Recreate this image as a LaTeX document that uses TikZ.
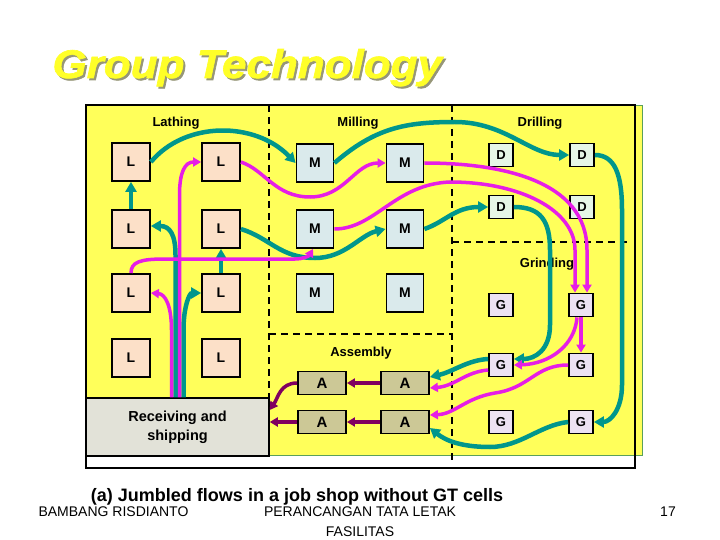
\documentclass[tikz,border=0pt]{standalone}
\usepackage{fontspec}
\setmainfont{Liberation Sans}
\newfontfamily\titlefont[FakeStretch=1.1,FakeBold=1.6]{Liberation Sans}
\usetikzlibrary{arrows.meta}
\definecolor{bgyellow}{RGB}{255,255,90}
\definecolor{titleyellow}{RGB}{255,255,40}
\definecolor{titleshade}{RGB}{150,150,120}
\definecolor{flowteal}{RGB}{0,150,140}
\definecolor{flowpink}{RGB}{230,30,230}
\definecolor{flowplum}{RGB}{128,0,96}
\definecolor{lathfill}{RGB}{252,224,200}
\definecolor{millfill}{RGB}{218,234,236}
\definecolor{drillfill}{RGB}{230,246,230}
\definecolor{grindfill}{RGB}{236,226,242}
\definecolor{assyfill}{RGB}{204,200,150}
\definecolor{recvfill}{RGB}{226,226,216}
\definecolor{framegreen}{RGB}{90,160,90}

\begin{document}
\begin{tikzpicture}[x=1pt,y=-1pt,
  machine/.style={draw=black,line width=1.8pt,inner sep=0pt,font=\bfseries\fontsize{14}{14}\selectfont},
  lathe/.style={machine,fill=lathfill,minimum width=38pt,minimum height=38pt},
  mill/.style={machine,fill=millfill,minimum width=37pt,minimum height=38pt},
  drill/.style={machine,fill=drillfill,minimum width=24pt,minimum height=23pt,font=\bfseries\fontsize{13}{13}\selectfont},
  grinder/.style={machine,fill=grindfill,minimum width=24pt,minimum height=23pt,font=\bfseries\fontsize{13}{13}\selectfont},
  assy/.style={machine,fill=assyfill,minimum width=48pt,minimum height=23pt,font=\bfseries\fontsize{15}{15}\selectfont},
  area/.style={font=\bfseries\fontsize{13}{13}\selectfont},
  divider/.style={line width=1.6pt,dash pattern=on 7pt off 5pt},
  tealflow/.style={flowteal,line width=4.5pt,-{Triangle[length=10pt,width=11pt]}},
  pinkflow/.style={flowpink,line width=3.5pt,-{Triangle[length=8pt,width=9pt]}},
  plumflow/.style={flowplum,line width=3.5pt,-{Triangle[length=8pt,width=9pt]}}]
\useasboundingbox (0,0) rectangle (720,540);

\node[anchor=base west,text=titleshade,font=\titlefont\bfseries\itshape\fontsize{40}{40}\selectfont] (titleshadow) at (51,80) {Group Technology};
\node[anchor=base west,text=titleyellow,font=\titlefont\bfseries\itshape\fontsize{40}{40}\selectfont] (title) at (49,78) {Group Technology};

\fill[bgyellow,draw=framegreen,line width=0.8pt] (86,105) rectangle (642,455);
\draw[divider] (269,105) -- (269,398);
\draw[divider] (452,105) -- (452,460);
\draw[divider] (269,334) -- (452,334);
\draw[divider] (452,242) -- (630,242);
\draw[line width=2.5pt] (86,105) rectangle (635,468);

\node[area] (lathlbl) at (176,123) {Lathing};
\node[area] (milllbl) at (358,123) {Milling};
\node[area] (drilllbl) at (540,123) {Drilling};
\node[area] (grindlbl) at (547,264) {Grinding};
\node[area] (assylbl) at (361,353) {Assembly};

\node[lathe] (L11) at (131,162) {L};
\node[lathe] (L12) at (221,162) {L};
\node[lathe] (L21) at (131,229) {L};
\node[lathe] (L22) at (221,229) {L};
\node[lathe] (L31) at (131,293) {L};
\node[lathe] (L32) at (221,293) {L};
\node[lathe] (L41) at (131,358) {L};
\node[lathe] (L42) at (221,358) {L};

\node[mill] (M11) at (315,163) {M};
\node[mill] (M12) at (405,163) {M};
\node[mill] (M21) at (315,229) {M};
\node[mill] (M22) at (405,229) {M};
\node[mill] (M31) at (315,293) {M};
\node[mill] (M32) at (405,293) {M};

\node[drill] (D11) at (501,155) {D};
\node[drill] (D12) at (582,155) {D};
\node[drill] (D21) at (501,207) {D};
\node[drill] (D22) at (582,207) {D};

\node[grinder] (G11) at (501,305) {G};
\node[grinder] (G12) at (581,305) {G};
\node[grinder] (G21) at (501,365) {G};
\node[grinder] (G22) at (581,365) {G};
\node[grinder] (G31) at (501,422) {G};
\node[grinder] (G32) at (581,422) {G};

\node[assy] (A11) at (322,383) {A};
\node[assy] (A12) at (405,383) {A};
\node[assy] (A21) at (322,422) {A};
\node[assy] (A22) at (405,422) {A};

\node[draw,line width=1.5pt,fill=recvfill,minimum width=183pt,minimum height=58pt,inner sep=0pt,align=center,font=\bfseries\fontsize{14.5}{19}\selectfont] (recv) at (177.5,427) {Receiving and\\shipping};

\draw[tealflow] (L21.north) -- (L11.south);
\draw[tealflow] (L32.north) -- (L22.south);
\draw[tealflow] (L11.east) .. controls (185,121) and (255,121) .. (M11.west);
\draw[tealflow] (L22.east) .. controls (270,238) and (280,258) .. (315,258) .. controls (345,258) and (360,235) .. (M22.west);
\draw[tealflow] (M11.east) .. controls (375,128) and (405,122) .. (455,122) .. controls (505,122) and (530,155) .. (D12.west);
\draw[tealflow] (M22.east) .. controls (445,222) and (455,207) .. (D21.west);
\draw[tealflow] (D21.east) .. controls (540,207) and (550,220) .. (550,250) -- (550,325) .. controls (550,350) and (535,359) .. ([yshift=6pt]G21.east);
\draw[tealflow] (D12.east) .. controls (615,155) and (622,175) .. (622,210) -- (622,385) .. controls (622,410) and (610,422) .. (G32.east);
\draw[tealflow] ([yshift=6pt]G21.west) .. controls (468,360) and (452,372) .. ([yshift=6pt]A12.east);
\draw[tealflow] (G32.west) .. controls (540,425) and (520,447) .. (490,447) .. controls (460,447) and (445,440) .. ([yshift=-6pt]A22.east);
\draw[tealflow] ([xshift=-2pt]recv.north) -- (175.5,255) .. controls (175.5,235) and (170,226) .. ([yshift=3pt]L21.east);
\draw[tealflow] ([xshift=6pt]recv.north) -- (183.5,330) .. controls (183.5,305) and (190,293) .. (L32.west);

\draw[pinkflow] ([xshift=-6pt]recv.north) -- (171.5,330) .. controls (171.5,305) and (165,294) .. (L31.east);
\draw[pinkflow] ([xshift=2pt]recv.north) -- (179.5,195) .. controls (179.5,172) and (185,162) .. (L12.west);
\draw[pinkflow] (L31.north) .. controls (131,262) and (140,259) .. (165,259) -- (295,259) .. controls (303,259) and (309,256) .. ([xshift=-2pt]M21.south);
\draw[pinkflow] (L12.east) .. controls (265,170) and (275,197) .. (310,197) .. controls (345,197) and (355,163) .. (M12.west);
\draw[pinkflow] (M21.east) .. controls (375,229) and (395,184) .. (450,182) .. controls (520,182) and (575,210) .. (575,250) -- ([xshift=-6pt]G12.north);
\draw[pinkflow] (M12.east) .. controls (500,163) and (587,180) .. (587,250) -- ([xshift=6pt]G12.north);
\draw[pinkflow] (G12.south) -- (G22.north);
\draw[pinkflow] ([xshift=-4pt]G12.south) .. controls (575,345) and (550,364) .. (G21.east);
\draw[pinkflow] ([yshift=-5pt]G21.west) .. controls (465,372) and (455,386) .. ([yshift=-5pt]A12.east);
\draw[pinkflow] (G22.west) .. controls (535,365) and (530,388) .. (495,393) .. controls (465,398) and (455,414) .. ([yshift=7pt]A22.east);

\draw[plumflow] (A12.west) -- (A11.east);
\draw[plumflow] (A22.west) -- (A21.east);
\draw[plumflow] (A21.west) -- (A21.west -| recv.east);
\draw[plumflow] (A11.west) .. controls (280,383) and (278,398) .. ([yshift=17pt]recv.east);

\node[anchor=base west,font=\fontsize{14}{14}\selectfont] (author) at (35,516) {BAMBANG RISDIANTO};
\node[anchor=base,font=\fontsize{14}{14}\selectfont] (course) at (360,516) {PERANCANGAN TATA LETAK};
\node[anchor=base,font=\fontsize{14}{14}\selectfont] (course2) at (360,536) {FASILITAS};
\node[anchor=base,font=\fontsize{14}{14}\selectfont] (pageno) at (668,516) {17};
\node[anchor=base,font=\bfseries\fontsize{18}{18}\selectfont] (caption) at (297,501) {(a) Jumbled flows in a job shop without GT cells};
\end{tikzpicture}
\end{document}
